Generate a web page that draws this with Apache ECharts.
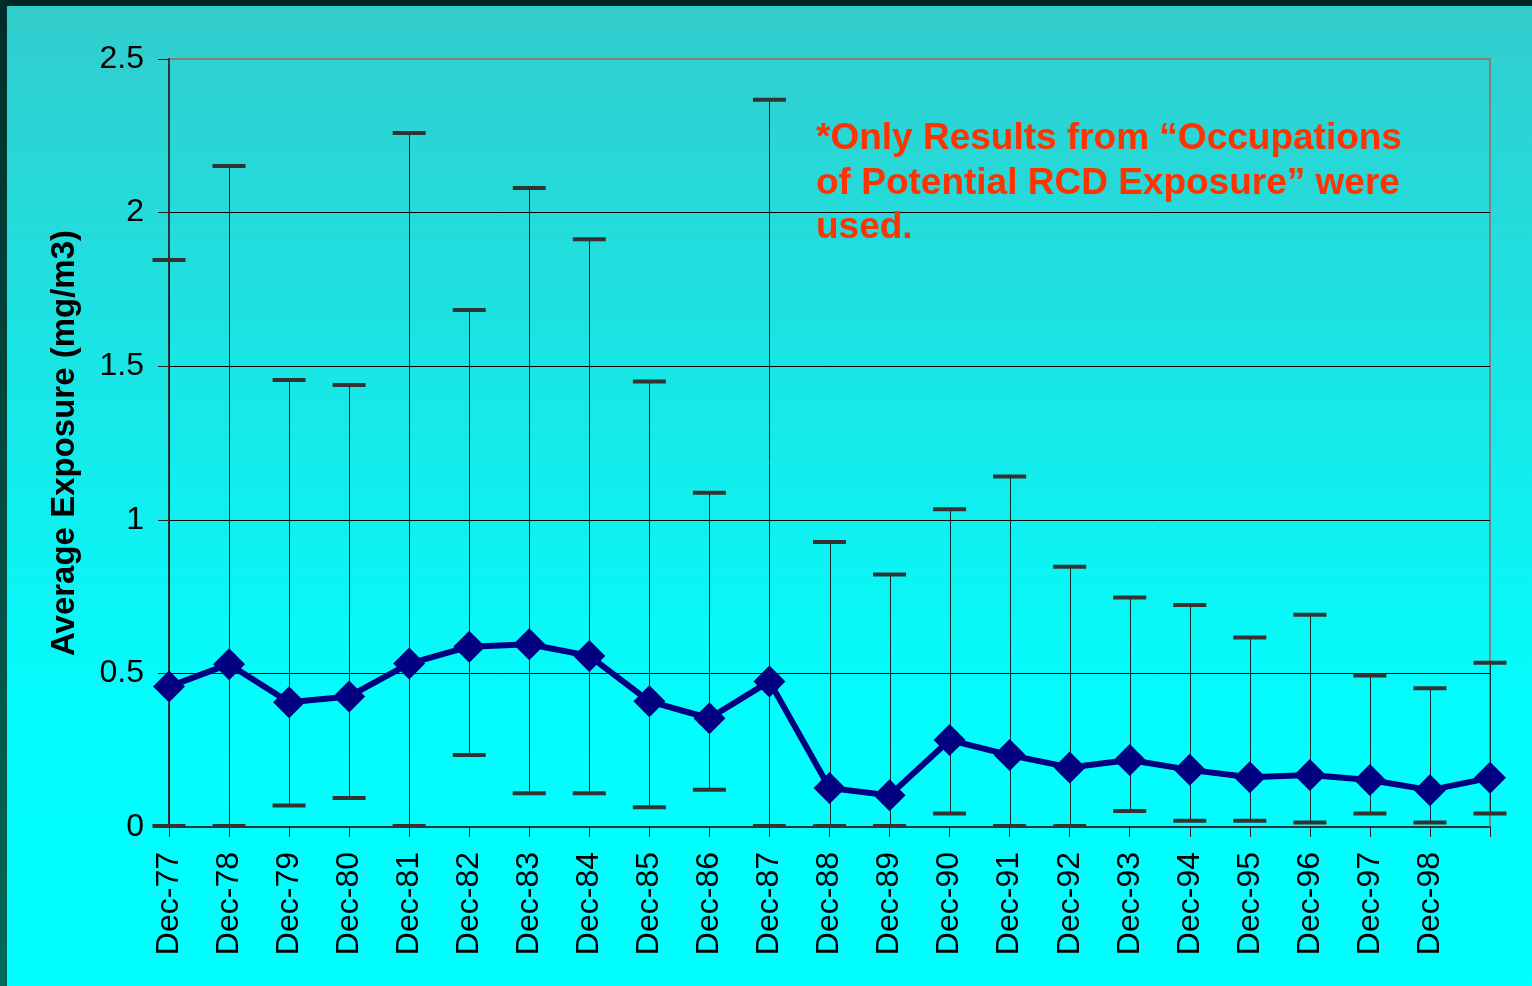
<!DOCTYPE html>
<html>
<head>
<meta charset="utf-8">
<script src="https://cdn.jsdelivr.net/npm/echarts@6/dist/echarts.min.js"></script>
<style>
html,body{margin:0;padding:0;width:1532px;height:986px;overflow:hidden;}
#chart{width:1532px;height:986px;}
</style>
</head>
<body>
<div id="chart"></div>
<script>
var categories = ['Dec-77','Dec-78','Dec-79','Dec-80','Dec-81','Dec-82','Dec-83','Dec-84','Dec-85','Dec-86','Dec-87','Dec-88','Dec-89','Dec-90','Dec-91','Dec-92','Dec-93','Dec-94','Dec-95','Dec-96','Dec-97','Dec-98',''];
var meanValues = [0.457,0.530,0.406,0.425,0.532,0.587,0.595,0.557,0.409,0.354,0.474,0.127,0.103,0.283,0.234,0.194,0.218,0.186,0.162,0.169,0.153,0.120,0.160];
var upperValues = [1.846,2.152,1.455,1.439,2.259,1.683,2.080,1.913,1.450,1.088,2.367,0.928,0.822,1.034,1.141,0.847,0.747,0.723,0.617,0.691,0.493,0.452,0.535];
var lowerValues = [0,0,0.067,0.091,0,0.231,0.107,0.107,0.061,0.118,0,0,0,0.041,0,0,0.049,0.017,0.017,0.011,0.041,0.011,0.041];
var yTicks = [0,0.5,1,1.5,2,2.5];
var noteText = '*Only Results from \u201cOccupations\nof Potential RCD Exposure\u201d were\nused.';
var yName = 'Average Exposure (mg/m3)';

var errData = categories.map(function(c,i){ return [i, lowerValues[i], upperValues[i]]; });

var chart = echarts.init(document.getElementById('chart'), null, {renderer:'canvas'});
var FONT = '"Liberation Sans", Arial, Helvetica, sans-serif';
chart.setOption({
  animation:false,
  backgroundColor:{type:'linear',x:0,y:0,x2:0,y2:1,colorStops:[
    {offset:0,color:'#33CCCC'},{offset:0.72,color:'#02FDFD'},{offset:1,color:'#00FFFF'}]},
  graphic:[
    {type:'rect',left:0,top:0,shape:{width:1532,height:6},style:{fill:'#002626'},z:100},
    {type:'rect',left:0,top:0,shape:{width:7,height:986},style:{fill:{type:'linear',x:0,y:0,x2:0,y2:1,colorStops:[{offset:0,color:'#002e2a'},{offset:1,color:'#006a5a'}]}},z:100},
    {type:'text',left:816,top:117,z:100,style:{text:noteText,font:'bold 37px '+FONT,fill:'#FF3300',lineHeight:44.5}}
  ],
  grid:{left:169,right:42,top:59,bottom:159,show:true,borderColor:'#808080',borderWidth:2,backgroundColor:'transparent'},
  xAxis:{
    type:'category',data:categories,boundaryGap:false,
    axisLine:{lineStyle:{color:'#333',width:2}},
    axisTick:{show:true,length:10,alignWithLabel:true,interval:0,lineStyle:{color:'#222',width:1}},
    axisLabel:{rotate:90,interval:0,margin:25,fontSize:32,fontFamily:FONT,color:'#000'}
  },
  yAxis:{
    type:'value',min:0,max:2.5,interval:0.5,
    name:yName,nameLocation:'middle',nameGap:88,
    nameTextStyle:{fontSize:33,fontWeight:'bold',fontFamily:FONT,color:'#000'},
    axisLine:{show:true,lineStyle:{color:'#333',width:2}},
    axisTick:{show:true,length:11,lineStyle:{color:'#222',width:1}},
    axisLabel:{margin:25,fontSize:32,fontFamily:FONT,color:'#000',formatter:function(v){return String(v);}},
    splitLine:{show:true,lineStyle:{color:['#333','#000','#000','#000','#000','#808080'],width:1}}
  },
  series:[
    {
      type:'custom',
      data:errData,
      z:2,
      renderItem:function(params,api){
        var x = api.value(0);
        var lo = api.coord([x, api.value(1)]);
        var hi = api.coord([x, api.value(2)]);
        var cw = 33, ch = 4;
        return {type:'group',children:[
          {type:'line',shape:{x1:Math.round(lo[0])+0.5,y1:lo[1],x2:Math.round(hi[0])+0.5,y2:hi[1]},style:{stroke:'#0a2a2a',lineWidth:1}},
          {type:'rect',shape:{x:lo[0]-cw/2,y:lo[1]-ch/2-1,width:cw,height:ch},style:{fill:'#333333'}},
          {type:'rect',shape:{x:hi[0]-cw/2,y:hi[1]-ch/2,width:cw,height:ch},style:{fill:'#333333'}}
        ]};
      }
    },
    {
      type:'line',data:meanValues,z:3,
      symbol:'diamond',symbolSize:32,
      lineStyle:{color:'#000080',width:6},
      itemStyle:{color:'#000080'}
    }
  ]
});
</script>
</body>
</html>
